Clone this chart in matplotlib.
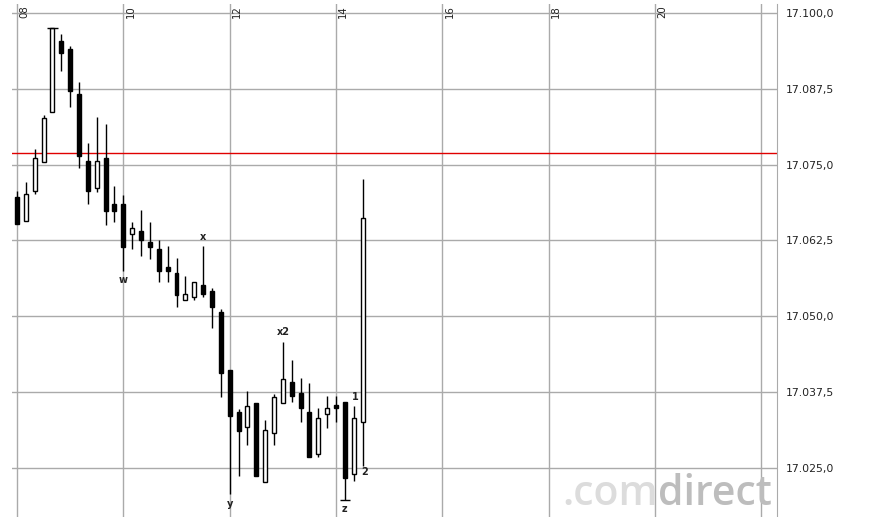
import matplotlib
matplotlib.use("Agg")
import matplotlib.pyplot as plt
from matplotlib.patches import Rectangle
from matplotlib.ticker import FixedLocator, FuncFormatter

# 10-minute candles starting 08:00
start_hour = 8.0
step_hours = 10 / 60
opens  = [17069.7, 17065.7, 17070.6, 17075.5, 17083.7, 17095.5, 17094.1, 17086.6, 17075.6, 17071.1,
          17076.1, 17068.5, 17068.5, 17063.5, 17064.1, 17062.2, 17061.1, 17058.1, 17057.1, 17052.7,
          17053.1, 17055.2, 17054.2, 17050.7, 17041.2, 17034.2, 17031.7, 17035.7, 17022.7, 17030.7,
          17035.7, 17039.2, 17037.3, 17034.2, 17027.3, 17033.9, 17035.3, 17035.8, 17023.9, 17032.6]
highs  = [17070.7, 17072.2, 17077.6, 17083.2, 17097.6, 17096.6, 17094.6, 17088.7, 17078.6, 17082.8,
          17081.7, 17071.5, 17070.0, 17065.5, 17067.6, 17065.5, 17062.6, 17061.6, 17059.6, 17056.6,
          17055.6, 17061.6, 17054.6, 17051.2, 17041.2, 17034.7, 17037.7, 17035.7, 17032.8, 17037.2,
          17045.8, 17042.8, 17039.8, 17038.9, 17034.9, 17036.9, 17036.9, 17035.8, 17035.1, 17072.7]
lows   = [17065.2, 17065.7, 17070.1, 17075.5, 17083.7, 17090.5, 17084.6, 17074.5, 17068.6, 17070.5,
          17065.0, 17065.5, 17057.5, 17061.1, 17060.0, 17059.5, 17055.6, 17055.6, 17051.6, 17052.7,
          17052.6, 17053.1, 17048.1, 17036.6, 17020.6, 17023.6, 17028.7, 17023.6, 17022.7, 17028.7,
          17035.7, 17035.8, 17032.6, 17026.7, 17026.7, 17031.6, 17032.6, 17019.7, 17022.8, 17025.3]
closes = [17065.2, 17070.2, 17076.1, 17082.7, 17097.6, 17093.5, 17087.1, 17076.5, 17070.6, 17075.6,
          17067.4, 17067.4, 17061.5, 17064.5, 17062.5, 17061.5, 17057.5, 17057.5, 17053.5, 17053.6,
          17055.6, 17053.6, 17051.6, 17040.6, 17033.6, 17031.1, 17035.2, 17023.6, 17031.3, 17036.7,
          17039.6, 17036.8, 17034.8, 17026.7, 17033.2, 17034.9, 17034.8, 17023.3, 17033.2, 17066.2]

ref_level = 17076.9
day_high_idx, day_low_idx = 4, 37
wave_labels = [("w", 12, "below"), ("x", 21, "above"), ("y", 24, "below"),
               ("x2", 30, "above"), ("z", 37, "below")]
count_labels = [("1", 38, "high"), ("2", 39, "low")]

x_ticks = [8, 10, 12, 14, 16, 18, 20]
x_grid = [8, 10, 12, 14, 16, 18, 20, 22]
y_ticks = [17025.0, 17037.5, 17050.0, 17062.5, 17075.0, 17087.5, 17100.0]

W, H = 874, 517
fig = plt.figure(figsize=(W / 100, H / 100), dpi=100)
ax = fig.add_axes([12 / W, 0, (777 - 12) / W, (517 - 4) / H])
ax.set_xlim(7.906, 22.294)
ax.set_ylim(17016.86, 17101.53)

grid_c = "#aaaaaa"
for g in x_grid:
    ax.axvline(g, color=grid_c, lw=1, zorder=0)
for v in y_ticks:
    ax.axhline(v, color=grid_c, lw=1, zorder=0)
ax.axhline(ref_level, color="#e00000", lw=1, zorder=1)

bw = 0.075  # body width in hours
for i, (o, h, l, c) in enumerate(zip(opens, highs, lows, closes)):
    t = start_hour + i * step_hours
    ax.vlines(t, l, h, color="black", lw=1, zorder=3)
    lo, hi = min(o, c), max(o, c)
    up = c >= o
    ax.add_patch(Rectangle((t - bw / 2, lo), bw, max(hi - lo, 0.3),
                           facecolor="white" if up else "black",
                           edgecolor="black", lw=1, zorder=4))

cap = 0.1
t = start_hour + day_high_idx * step_hours
ax.hlines(highs[day_high_idx], t - cap, t + cap, color="black", lw=1, zorder=4)
t = start_hour + day_low_idx * step_hours
ax.hlines(lows[day_low_idx], t - cap, t + cap, color="black", lw=1, zorder=4)

for txt, i, pos in wave_labels:
    t = start_hour + i * step_hours
    if pos == "above":
        ax.annotate(txt, (t, highs[i]), xytext=(0, 3), textcoords="offset points",
                    ha="center", va="bottom", fontsize=7, fontweight="bold", color="#222222")
    else:
        ax.annotate(txt, (t, lows[i]), xytext=(0, -3), textcoords="offset points",
                    ha="center", va="top", fontsize=7, fontweight="bold", color="#222222")
for txt, i, pos in count_labels:
    t = start_hour + i * step_hours
    if pos == "high":
        ax.annotate(txt, (t, highs[i]), xytext=(-1, 3), textcoords="offset points",
                    ha="left", va="bottom", fontsize=7, fontweight="bold", color="#222222")
    else:
        ax.annotate(txt, (t, lows[i]), xytext=(-1, -1), textcoords="offset points",
                    ha="left", va="top", fontsize=7, fontweight="bold", color="#222222")

# axes styling
for s in ["left", "bottom", "top"]:
    ax.spines[s].set_visible(False)
ax.spines["right"].set_color(grid_c)
ax.yaxis.tick_right()
ax.yaxis.set_major_locator(FixedLocator(y_ticks))
ax.yaxis.set_major_formatter(FuncFormatter(
    lambda v, p: f"{v:,.1f}".replace(",", "X").replace(".", ",").replace("X", ".")))
ax.tick_params(axis="y", length=0, pad=6, labelsize=7.8, labelcolor="#222222")
ax.set_xticks([])
for g in x_ticks:
    ax.text(g + 0.04, 17101.4, f"{g:02d}", rotation=90, ha="left", va="top",
            fontsize=7.3, color="#222222", zorder=5)

# watermark
t1 = fig.text(562 / W, 1 - 505 / H, ".com", fontsize=29.5, color="#dcdcdc",
              family="Open Sans", fontweight="semibold", ha="left", va="baseline")
fig.canvas.draw()
bb = t1.get_window_extent(renderer=fig.canvas.get_renderer())
fig.text(bb.x1 / W, 1 - 505 / H, "direct", fontsize=29.5, color="#bdbdbd",
         family="Open Sans", fontweight="semibold", ha="left", va="baseline")

fig.savefig("out.png", dpi=100)
